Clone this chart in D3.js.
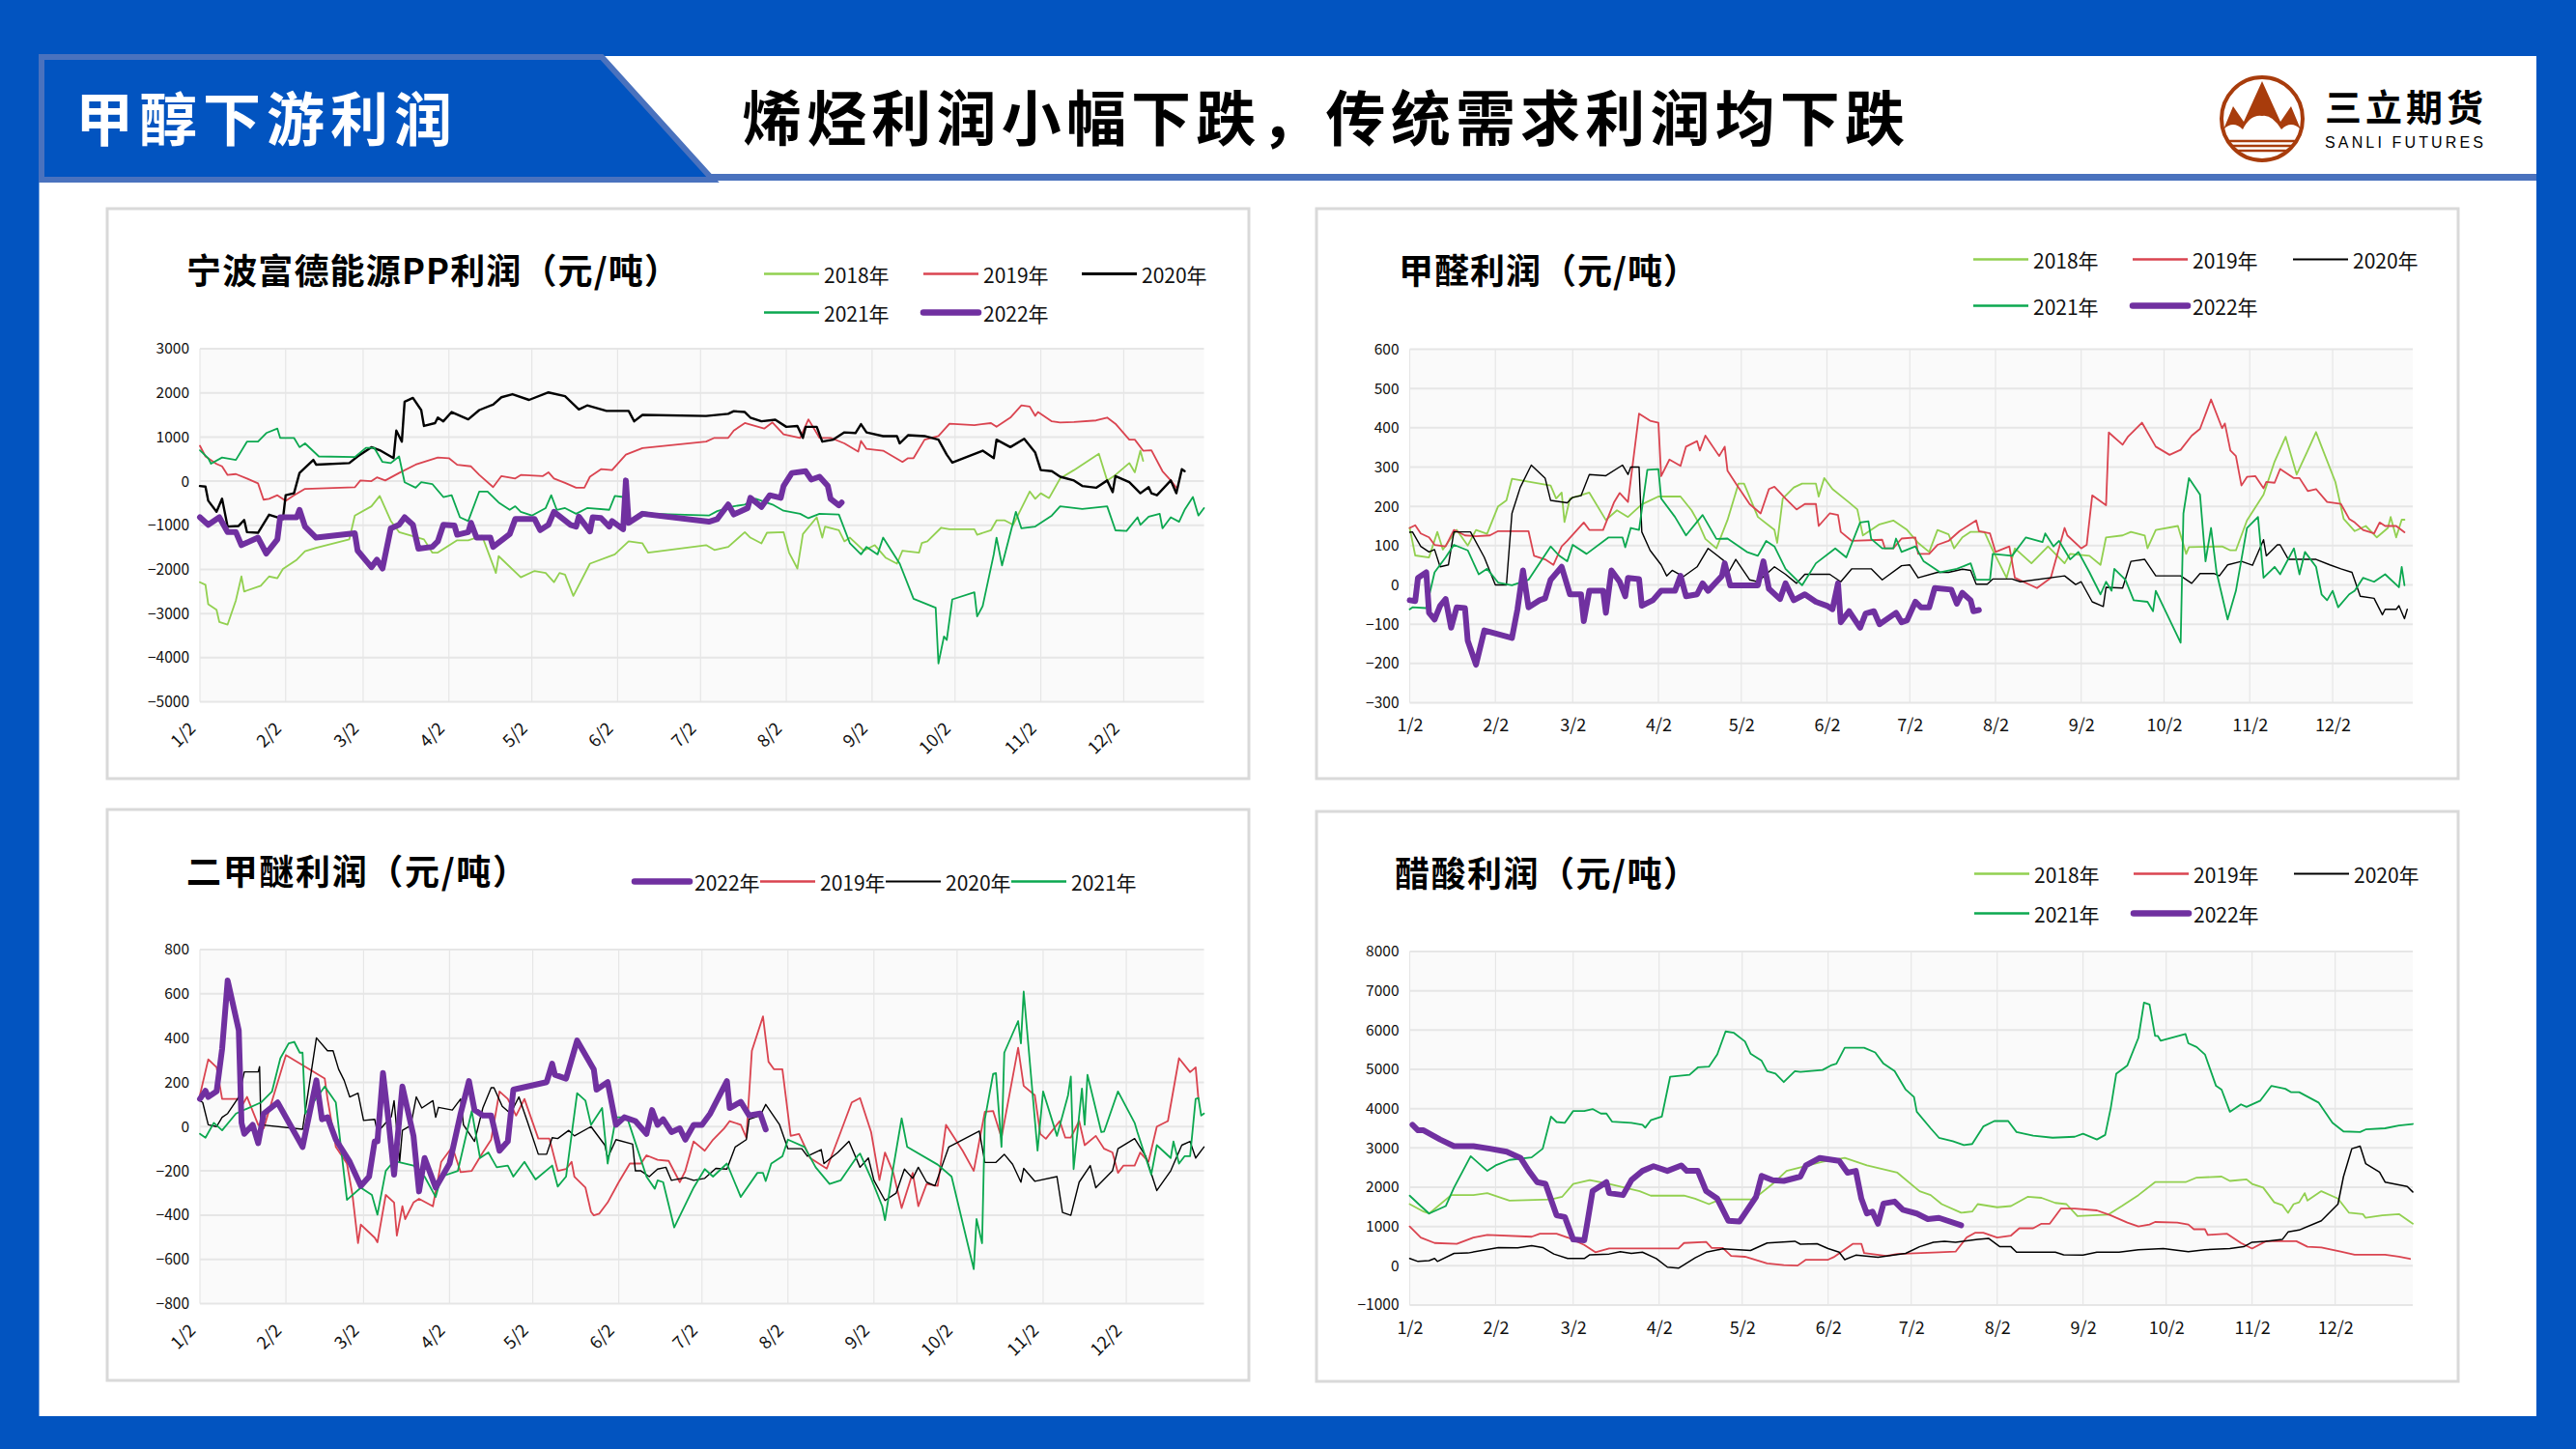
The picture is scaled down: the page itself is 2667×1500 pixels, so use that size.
<!DOCTYPE html>
<html><head><meta charset="utf-8">
<script src="https://cdn.jsdelivr.net/npm/d3@7/dist/d3.min.js"></script>
<style>html,body{margin:0;padding:0;background:#0254C0;overflow:hidden}svg{display:block}text{font-family:"Noto Sans CJK SC","Noto Sans",sans-serif}</style>
</head><body><svg id="c" width="2667" height="1500"></svg>
<script>
// Day offsets from Jan 2 for the month ticks
const tickDays=[0,31,59,90,120,151,181,212,243,273,304,334];
const tickLabels=["1/2","2/2","3/2","4/2","5/2","6/2","7/2","8/2","9/2","10/2","11/2","12/2"];
// ---------- PP
const ppYears=[-5000,-4000,-3000,-2000,-1000,0,1000,2000,3000];
const pp2018=[[0,-2290],[2,-2350],[3,-2790],[6,-2915],[7,-3190],[10,-3250],[13,-2700],[15,-2160],[16,-2500],[22,-2370],[25,-2160],[28,-2200],[30,-1990],[35,-1780],[38,-1590],[42,-1510],[54,-1320],[56,-780],[62,-570],[65,-335],[69,-900],[72,-1155],[81,-1320],[84,-1620],[86,-1620],[93,-1340],[97,-1340],[102,-1240],[105,-1740],[107,-2080],[108,-1700],[116,-2180],[121,-2035],[125,-2080],[128,-2290],[130,-2080],[132,-2120],[135,-2600],[141,-1870],[150,-1660],[155,-1365],[160,-1410],[162,-1620],[183,-1450],[186,-1560],[191,-1490],[197,-1155],[199,-1280],[203,-1410],[205,-1170],[211,-1155],[213,-1620],[216,-1980],[218,-1200],[223,-820],[225,-1280],[226,-1030],[231,-1110],[233,-1365],[235,-1280],[240,-1575],[244,-1450],[248,-1740],[252,-1870],[254,-1575],[260,-1620],[261,-1400],[263,-1365],[268,-1055],[271,-1090],[280,-1090],[281,-1215],[286,-1110],[288,-890],[291,-890],[294,-990],[296,-740],[300,-235],[302,-400],[304,-275],[307,-385],[311,60],[316,250],[325,620],[328,15],[331,140],[336,410],[338,200],[340,690],[341,460]];
const pp2019=[[0,800],[2,560],[6,390],[8,335],[10,140],[13,160],[17,60],[21,-50],[23,-420],[25,-400],[28,-320],[31,-445],[34,-320],[38,-175],[56,-140],[58,15],[62,0],[64,85],[67,15],[72,185],[78,375],[86,535],[90,520],[93,370],[98,335],[101,140],[106,-135],[109,115],[114,60],[116,140],[124,115],[126,200],[128,60],[132,-40],[136,-150],[139,-150],[141,100],[145,270],[149,250],[154,600],[160,750],[183,895],[186,980],[191,980],[193,1145],[197,1315],[204,1190],[207,1330],[211,1060],[217,980],[220,1400],[224,980],[228,980],[233,855],[238,670],[239,910],[241,730],[247,690],[254,435],[256,520],[258,520],[262,940],[267,1020],[271,1300],[280,1270],[286,1315],[288,1230],[293,1440],[297,1715],[300,1690],[302,1480],[303,1565],[308,1355],[311,1330],[316,1340],[324,1375],[328,1440],[331,1300],[336,940],[338,940],[341,690],[344,700],[348,225],[351,15],[353,-150]];
const pp2020=[[0,-110],[2,-125],[3,-445],[6,-695],[8,-400],[10,-1030],[14,-1015],[16,-880],[17,-1155],[21,-1170],[25,-760],[30,-860],[31,-320],[34,-275],[36,185],[41,480],[42,375],[54,410],[57,560],[62,770],[65,700],[70,520],[71,1145],[73,895],[74,1800],[77,1885],[80,1610],[81,1250],[85,1315],[86,1440],[88,1355],[91,1565],[97,1400],[101,1610],[106,1735],[109,1900],[113,1970],[119,1840],[126,2010],[132,1925],[137,1625],[140,1715],[147,1590],[155,1590],[157,1355],[160,1500],[183,1475],[191,1525],[193,1585],[197,1565],[199,1440],[203,1355],[208,1390],[212,1230],[216,1250],[218,980],[219,1230],[223,1230],[225,895],[229,940],[233,1105],[237,1090],[239,1290],[241,1105],[247,1020],[252,1020],[253,855],[256,1040],[262,1020],[267,940],[270,600],[272,420],[283,690],[287,520],[288,940],[293,770],[298,960],[302,645],[304,250],[308,225],[311,100],[316,15],[319,-110],[324,-150],[328,15],[330,-250],[331,115],[336,-25],[340,-275],[343,-135],[344,-275],[346,-320],[351,15],[353,-275],[355,270],[356,225]];
const pp2021=[[0,700],[3,520],[4,395],[8,535],[13,480],[17,895],[21,895],[24,1090],[28,1190],[29,980],[34,980],[36,770],[38,855],[43,560],[56,545],[60,755],[63,755],[66,435],[69,410],[72,560],[74,-25],[78,-150],[80,-25],[84,-65],[88,-360],[91,-320],[94,-820],[97,-905],[101,-235],[104,-235],[108,-485],[112,-650],[114,-570],[116,-695],[120,-780],[125,-610],[127,-320],[129,-650],[132,-610],[136,-740],[140,-610],[148,-650],[150,-335],[153,-360],[155,-905],[160,-695],[164,-740],[184,-780],[187,-680],[193,-570],[197,-530],[201,-400],[207,-530],[211,-670],[217,-740],[220,-840],[224,-740],[231,-755],[235,-1410],[239,-1660],[241,-1490],[245,-1660],[247,-1280],[253,-1870],[258,-2665],[266,-2870],[267,-4130],[269,-3520],[270,-3600],[272,-2680],[280,-2520],[281,-3065],[283,-2830],[287,-1660],[288,-1280],[290,-1910],[295,-695],[297,-1070],[302,-1030],[308,-780],[311,-570],[319,-630],[328,-570],[331,-1115],[335,-1130],[339,-820],[340,-990],[343,-805],[347,-740],[348,-1070],[351,-820],[354,-920],[356,-650],[359,-360],[361,-780],[363,-610]];
const pp2022=[[0,-820],[3,-990],[7,-820],[10,-1155],[13,-1155],[15,-1450],[21,-1280],[24,-1640],[28,-1320],[29,-820],[35,-820],[36,-650],[38,-1030],[42,-1280],[56,-1180],[57,-1575],[62,-1950],[64,-1780],[66,-1980],[69,-1070],[72,-990],[74,-820],[77,-990],[79,-1530],[84,-1490],[86,-1365],[88,-990],[92,-1005],[93,-1215],[97,-1155],[98,-945],[100,-1280],[105,-1280],[106,-1490],[112,-1200],[114,-860],[121,-860],[123,-1110],[126,-990],[128,-695],[134,-990],[136,-1030],[137,-805],[141,-1140],[142,-820],[145,-835],[148,-1030],[149,-905],[153,-1090],[154,15],[155,-945],[160,-740],[184,-920],[187,-860],[191,-530],[193,-755],[198,-610],[199,-380],[203,-585],[206,-320],[210,-380],[211,-110],[214,185],[219,225],[221,35],[224,100],[227,-110],[228,-400],[231,-550],[232,-485]];
// ---------- Formaldehyde
const hchoTicks=[-300,-200,-100,0,100,200,300,400,500,600];
const hcho2018=[[0,145],[2,75],[7,70],[10,135],[12,90],[17,140],[21,100],[24,140],[28,130],[32,200],[35,215],[37,270],[51,253],[53,220],[55,235],[56,160],[58,220],[65,235],[71,165],[75,190],[79,173],[84,205],[90,225],[98,225],[102,190],[104,165],[107,117],[111,93],[115,165],[119,258],[121,258],[126,173],[132,140],[133,107],[135,220],[139,248],[142,258],[147,258],[148,225],[150,272],[153,244],[159,210],[162,192],[164,126],[170,154],[175,164],[180,140],[184,107],[188,84],[191,140],[195,129],[197,93],[200,121],[203,135],[208,135],[211,88],[216,18],[219,93],[225,55],[231,98],[237,55],[239,79],[246,74],[250,51],[252,121],[258,126],[261,135],[266,126],[267,93],[270,140],[278,150],[281,79],[282,96],[294,98],[297,88],[299,88],[303,164],[309,230],[313,314],[317,377],[321,281],[325,342],[328,389],[330,352],[335,262],[338,168],[342,137],[346,150],[350,121],[354,145],[355,173],[357,121],[359,166],[360,166]];
const hcho2019=[[0,145],[2,152],[4,131],[7,121],[9,102],[13,98],[16,140],[20,126],[24,124],[29,126],[32,137],[43,137],[45,74],[49,65],[52,51],[55,98],[57,112],[63,159],[65,140],[70,140],[74,211],[76,234],[79,211],[83,436],[87,418],[90,413],[91,277],[94,319],[98,303],[100,352],[104,366],[105,342],[107,380],[112,328],[114,352],[115,291],[119,248],[123,206],[127,182],[130,244],[132,250],[136,220],[140,192],[143,206],[147,206],[148,150],[152,182],[155,178],[156,135],[160,112],[171,115],[172,93],[175,93],[178,118],[183,121],[184,79],[188,79],[191,102],[195,112],[199,137],[205,164],[206,137],[210,131],[212,84],[217,98],[219,18],[227,-8],[232,18],[237,145],[238,126],[243,93],[245,102],[247,228],[252,203],[253,388],[258,357],[260,378],[265,413],[270,352],[275,331],[279,344],[283,380],[286,397],[290,472],[294,399],[295,411],[297,342],[299,328],[301,253],[303,275],[306,277],[309,246],[310,262],[313,260],[315,295],[320,272],[322,272],[325,239],[328,244],[332,211],[337,206],[340,168],[342,159],[345,140],[349,131],[351,159],[353,150],[357,150],[360,134]];
const hcho2020=[[0,134],[1,135],[4,98],[7,84],[9,90],[11,46],[14,51],[16,135],[22,135],[27,70],[31,0],[35,0],[37,182],[40,248],[44,305],[49,272],[51,215],[57,209],[59,223],[62,227],[65,281],[71,278],[77,305],[79,281],[80,300],[83,300],[84,135],[87,88],[91,51],[93,23],[95,37],[99,21],[104,46],[108,93],[114,60],[115,27],[118,65],[123,13],[126,8],[132,46],[136,27],[140,4],[143,27],[152,27],[156,8],[160,41],[167,41],[171,13],[178,49],[181,51],[184,18],[191,32],[195,32],[200,40],[203,37],[205,2],[209,2],[211,15],[218,15],[221,8],[237,23],[241,1],[243,8],[247,-43],[251,-55],[252,-6],[258,-8],[261,60],[266,65],[270,23],[279,23],[283,4],[286,29],[291,29],[293,23],[296,51],[301,60],[305,50],[309,115],[310,74],[314,102],[315,102],[318,65],[328,65],[333,51],[337,41],[341,32],[344,-29],[349,-34],[352,-76],[353,-62],[357,-62],[358,-53],[360,-86],[361,-62]];
const hcho2021=[[0,-62],[1,-57],[6,-59],[9,32],[13,70],[16,102],[21,88],[25,27],[28,41],[32,6],[37,-1],[43,13],[51,98],[54,75],[57,60],[59,102],[64,79],[72,121],[77,121],[78,96],[80,145],[83,140],[86,293],[90,295],[91,220],[96,173],[100,126],[106,178],[111,117],[115,118],[122,84],[126,74],[129,112],[132,98],[136,41],[142,-1],[147,55],[154,93],[158,70],[163,159],[166,162],[167,117],[171,93],[175,93],[176,118],[178,84],[183,98],[186,60],[192,32],[198,41],[203,55],[205,13],[210,13],[211,79],[218,74],[223,121],[229,109],[230,131],[233,98],[235,112],[239,65],[242,84],[246,32],[250,-24],[252,8],[254,-15],[255,41],[259,13],[262,-39],[267,-43],[269,-67],[270,-15],[279,-147],[280,182],[282,272],[286,230],[288,60],[290,145],[292,32],[296,-88],[299,-15],[303,145],[307,173],[309,18],[313,46],[315,27],[320,93],[322,27],[324,84],[328,46],[330,-24],[332,-39],[334,-15],[336,-57],[340,-24],[342,-15],[345,18],[349,8],[353,27],[358,-6],[359,46],[360,-1]];
const hcho2022=[[0,-39],[2,-41],[3,18],[6,32],[7,-71],[9,-88],[11,-53],[13,-36],[15,-109],[17,-57],[20,-59],[21,-142],[24,-203],[27,-116],[37,-135],[39,-62],[41,37],[43,-57],[47,-39],[49,-34],[51,13],[55,46],[58,-24],[62,-24],[63,-92],[65,-15],[70,-15],[71,-71],[73,37],[76,8],[78,-29],[79,18],[83,15],[84,-53],[88,-39],[91,-15],[96,-15],[98,23],[100,-29],[104,-24],[106,4],[108,-15],[113,23],[114,55],[116,-1],[126,-1],[128,60],[130,-10],[134,-36],[136,4],[139,-39],[143,-24],[147,-43],[151,-53],[153,-62],[155,4],[156,-95],[159,-67],[163,-109],[165,-73],[168,-67],[170,-100],[176,-71],[178,-95],[180,-90],[183,-43],[185,-57],[188,-57],[190,-8],[196,-12],[198,-48],[200,-20],[203,-39],[204,-67],[206,-64]];
// ---------- DME
const dmeTicks=[-800,-600,-400,-200,0,200,400,600,800];
const dme2019=[[0,142],[3,304],[6,268],[8,125],[14,125],[15,92],[17,134],[21,8],[23,-8],[31,323],[45,217],[46,125],[49,-92],[53,-167],[55,-309],[57,-527],[58,-443],[63,-502],[64,-523],[67,-309],[70,-343],[71,-493],[73,-360],[74,-418],[77,-343],[79,-326],[84,-360],[87,-159],[91,-92],[94,-206],[98,-200],[102,-117],[105,-59],[108,159],[111,125],[114,50],[117,125],[122,-54],[126,-54],[129,-200],[132,-192],[134,-159],[135,-226],[139,-276],[141,-385],[142,-401],[144,-393],[147,-343],[151,-251],[155,-167],[159,-167],[161,-130],[165,-150],[169,-155],[173,-251],[175,-200],[178,-67],[182,-109],[185,-59],[189,-8],[191,25],[195,8],[197,-50],[199,343],[203,498],[205,293],[207,259],[210,259],[213,-42],[216,-33],[220,-142],[226,-190],[231,-25],[235,109],[238,129],[242,-25],[245,-242],[247,-117],[250,-209],[253,-368],[257,-209],[259,-360],[262,-259],[266,-268],[269,8],[275,-109],[279,-200],[283,67],[286,70],[289,-50],[295,356],[297,184],[301,142],[303,-33],[305,-55],[310,25],[312,-50],[314,-50],[317,25],[319,-84],[323,-42],[326,-100],[329,-117],[331,-209],[333,-176],[337,-176],[339,-117],[342,-159],[345,0],[349,25],[353,309],[357,246],[359,268],[360,125]];
const dme2020=[[0,117],[1,109],[3,8],[6,0],[8,42],[10,59],[14,134],[16,247],[21,247],[21.5,271],[22,8],[37,-12],[42,401],[46,343],[48,343],[50,259],[52,209],[54,134],[57,151],[59,28],[63,33],[64,-25],[69,45],[70,117],[72,-159],[73,-17],[76,5],[78,134],[80,84],[84,117],[85,42],[86,87],[91,75],[94,125],[95,8],[99,-67],[102,84],[105,176],[106,176],[109,92],[112,59],[115,134],[118,25],[122,-125],[125,-125],[127,-50],[129,-54],[133,-17],[135,-42],[141,0],[146,-84],[147,-142],[150,-59],[156,-79],[157,-200],[159,-200],[162,-226],[165,-192],[168,-184],[170,-243],[175,-231],[178,-243],[182,-234],[186,-189],[190,-192],[193,-92],[197,-59],[198,33],[202,50],[204,100],[209,8],[212,-100],[217,-100],[219,-134],[224,-104],[225,-167],[230,-117],[234,-67],[238,-184],[241,-142],[243,-243],[247,-334],[251,-301],[254,-192],[257,-234],[259,-184],[262,-251],[265,-268],[270,-92],[281,-20],[283,-162],[287,-162],[290,-125],[293,-170],[296,-251],[297,-189],[301,-247],[309,-226],[311,-388],[314,-401],[317,-251],[321,-176],[323,-276],[329,-200],[331,-100],[337,-54],[341,-134],[345,-289],[350,-200],[354,-84],[357,-67],[359,-142],[362,-92]];
const dme2021=[[0,-33],[2,-50],[5,17],[8,-17],[13,59],[22,109],[26,159],[29,309],[32,376],[34,383],[36,334],[37,334],[38,59],[45,181],[49,109],[53,-331],[58,-276],[62,-309],[64,-398],[67,-200],[70,-155],[77,-176],[81,-226],[85,-318],[87,-226],[93,-200],[98,70],[101,-142],[104,-117],[107,-184],[111,-176],[113,-226],[117,-159],[121,-239],[127,-176],[129,-271],[132,-226],[136,151],[139,117],[141,8],[145,84],[147,-167],[150,42],[154,42],[161,-226],[164,-281],[165,-243],[167,-251],[171,-456],[178,-276],[182,-192],[185,-226],[190,-167],[195,-318],[201,-209],[203,-209],[204,-246],[206,-167],[210,-134],[212,-59],[218,-92],[222,-184],[227,-259],[231,-243],[237,-134],[238,-122],[242,-234],[246,-360],[247,-423],[250,-184],[253,37],[255,-92],[266,-172],[271,-226],[279,-644],[280,-418],[282,-527],[283,33],[286,239],[287,242],[289,-92],[290,334],[295,477],[296,376],[297,610],[302,-109],[304,159],[309,-42],[313,142],[314,226],[315,-192],[318,172],[319,8],[320,234],[325,-25],[326,-22],[331,159],[337,17],[338,-25],[343,-217],[345,-84],[350,-142],[351,-67],[353,-167],[355,-134],[357,-134],[359,125],[360,129],[361,50],[362,59]];
const dme2022=[[0,125],[2,162],[3,134],[6,159],[8,351],[10,660],[14,435],[15,17],[16,-33],[19,8],[21,-75],[23,59],[28,109],[37,-92],[42,209],[44,33],[46,42],[49,-59],[54,-159],[58,-268],[61,-226],[63,-67],[64,-67],[66,242],[68,25],[70,-217],[73,181],[77,-42],[79,-293],[81,-142],[85,-276],[90,-167],[94,59],[97,206],[99,75],[102,50],[105,50],[108,-109],[111,-67],[113,167],[125,201],[127,284],[128,234],[132,217],[136,389],[142,259],[143,167],[147,201],[150,8],[153,42],[157,25],[161,-33],[163,75],[165,8],[167,33],[170,-25],[173,-8],[175,-59],[178,8],[181,8],[184,59],[190,206],[191,84],[195,112],[198,50],[202,59],[204,-13]];
// ---------- Acetic acid
const aceticTicks=[-1000,0,1000,2000,3000,4000,5000,6000,7000,8000];
const acetic2018=[[0,1570],[5,1380],[7,1330],[15,1800],[23,1800],[28,1850],[36,1660],[51,1690],[55,1755],[59,2085],[65,2180],[72,2085],[83,1900],[87,1785],[99,1785],[103,1710],[108,1570],[112,1690],[124,1690],[131,2085],[136,2415],[149,2650],[157,2745],[165,2555],[176,2370],[184,1900],[188,1800],[192,1570],[199,1350],[203,1380],[205,1570],[212,1490],[217,1520],[223,1755],[228,1730],[233,1600],[237,1570],[241,1265],[252,1300],[257,1520],[263,1800],[269,2130],[280,2130],[284,2245],[293,2270],[296,2160],[302,2200],[304,2085],[308,1990],[312,1615],[315,1540],[317,1350],[319,1570],[321,1615],[323,1850],[324,1660],[329,1900],[335,1710],[339,1350],[344,1315],[345,1220],[351,1285],[357,1315],[362,1070]];
const acetic2019=[[0,1000],[4,720],[9,580],[17,560],[23,720],[28,785],[44,740],[47,815],[53,815],[57,720],[63,530],[67,345],[72,440],[91,440],[97,440],[99,580],[107,610],[109,455],[113,455],[116,250],[121,230],[129,60],[135,15],[140,5],[143,155],[151,155],[153,220],[160,560],[163,560],[164,325],[172,250],[176,300],[191,345],[197,360],[201,720],[204,840],[207,840],[212,720],[217,770],[220,955],[225,955],[228,1070],[231,1070],[235,1455],[240,1455],[248,1410],[253,1285],[259,1100],[263,1000],[267,1050],[269,1115],[277,1100],[281,1050],[283,930],[287,930],[288,785],[295,815],[300,580],[304,440],[309,625],[320,625],[324,485],[329,465],[336,360],[341,280],[352,280],[357,230],[361,175]];
const acetic2020=[[0,185],[3,110],[7,130],[9,185],[10,110],[16,315],[21,325],[32,465],[39,455],[44,515],[48,465],[52,300],[57,185],[63,185],[65,280],[72,300],[76,360],[80,315],[84,345],[89,185],[93,-35],[97,-60],[103,200],[107,345],[113,430],[123,390],[129,580],[139,625],[141,550],[147,560],[151,440],[155,345],[157,155],[161,270],[169,220],[179,315],[184,485],[189,600],[193,625],[197,600],[205,675],[209,695],[213,485],[217,485],[219,345],[233,345],[236,280],[243,270],[248,345],[256,345],[263,410],[272,440],[281,360],[287,410],[296,440],[301,485],[304,600],[309,625],[315,675],[317,860],[321,910],[329,1145],[335,1570],[337,2270],[340,2980],[343,3045],[345,2600],[350,2385],[352,2130],[360,2020],[362,1880]];
const acetic2021=[[0,1785],[4,1520],[7,1330],[13,1520],[16,1990],[22,2790],[28,2415],[31,2555],[36,2695],[44,2760],[48,2980],[51,3800],[53,3660],[56,3640],[59,3940],[63,3940],[66,3990],[69,3875],[71,3875],[73,3670],[80,3640],[84,3590],[85,3515],[87,3705],[91,3800],[94,4815],[101,4860],[104,5050],[108,5070],[111,5380],[114,5965],[117,5930],[121,5710],[123,5400],[127,5220],[129,4955],[132,4890],[135,4675],[139,4955],[141,4935],[149,4985],[152,5100],[154,5145],[157,5550],[164,5550],[168,5430],[171,5145],[175,4955],[179,4485],[182,4295],[183,3920],[188,3500],[191,3260],[196,3170],[200,3075],[203,3100],[207,3545],[211,3685],[216,3685],[219,3405],[225,3310],[232,3260],[240,3285],[243,3360],[248,3215],[251,3330],[253,4015],[255,4890],[259,5100],[263,5805],[265,6700],[267,6650],[269,5850],[270,5850],[271,5730],[280,5900],[281,5665],[284,5570],[287,5380],[291,4580],[293,4485],[296,3920],[300,4110],[302,4045],[307,4205],[311,4580],[316,4505],[318,4420],[321,4420],[328,4155],[333,3640],[337,3420],[343,3405],[345,3470],[352,3500],[357,3570],[362,3610]];
const acetic2022=[[1,3590],[3,3450],[5,3450],[11,3215],[16,3045],[23,3045],[29,2980],[35,2905],[40,2745],[43,2415],[46,2130],[49,2085],[53,1285],[56,1240],[59,670],[63,645],[64,1050],[66,1900],[71,2130],[72,1850],[77,1800],[80,2180],[84,2415],[88,2535],[93,2415],[98,2555],[100,2415],[104,2415],[107,1900],[111,1710],[115,1145],[119,1125],[125,1755],[127,2290],[131,2180],[135,2160],[141,2270],[143,2555],[148,2745],[155,2670],[158,2370],[161,2415],[163,1710],[165,1330],[167,1380],[169,1070],[171,1585],[175,1635],[178,1425],[183,1330],[187,1190],[191,1220],[199,1030]];

const colors={"2018":"#92D050","2019":"#DA4450","2020":"#000000","2021":"#0CA850","2022":"#7030A0"};
const svg=d3.select("#c");
const BLUE="#0254C0",EDGE="#4A72BE";

svg.append("rect").attr("width",2667).attr("height",1500).attr("fill",BLUE);
svg.append("rect").attr("x",40.5).attr("y",58).attr("width",2585.5).attr("height",1408).attr("fill","#fff");
svg.append("rect").attr("x",735).attr("y",180).attr("width",1891).attr("height",7).attr("fill",EDGE);
svg.append("path").attr("d","M43,59 L623,59 L738,186 L43,186 Z").attr("fill",BLUE).attr("stroke",EDGE).attr("stroke-width",6);
svg.append("text").attr("x",78).attr("y",119).attr("fill","#fff").attr("font-size",60).attr("font-weight",700).attr("dominant-baseline","central").attr("textLength",390).text("甲醇下游利润");
svg.append("text").attr("x",768).attr("y",119).attr("fill","#000").attr("font-size",62).attr("font-weight",700).attr("dominant-baseline","central").attr("textLength",1204).text("烯烃利润小幅下跌，传统需求利润均下跌");
const RUST="#A83C0C";
const logo=svg.append("g");
logo.append("ellipse").attr("cx",2342).attr("cy",123).attr("rx",42).attr("ry",43).attr("fill","#fff").attr("stroke",RUST).attr("stroke-width",4);
logo.append("path").attr("fill",RUST).attr("d","M2302,134 L2312,110 L2323,126 L2342,84 L2361,126 L2372,110 L2382,134 Q2372,124 2362,134 Q2352,118 2342,120 Q2330,118 2322,134 Q2312,124 2302,134Z");
[[2308,2376,146],[2311,2373,151],[2316,2368,156]].forEach(d=>logo.append("line").attr("x1",d[0]).attr("x2",d[1]).attr("y1",d[2]).attr("y2",d[2]).attr("stroke",RUST).attr("stroke-width",2.5));
logo.append("text").attr("x",2407).attr("y",108).attr("font-size",38).attr("font-weight",700).attr("dominant-baseline","central").attr("textLength",164).text("三立期货");
logo.append("text").attr("x",2407).attr("y",147).attr("font-size",16).attr("font-weight",500).attr("dominant-baseline","central").attr("textLength",164).style("font-family","'Liberation Sans'").text("SANLI FUTURES");

function panel(o){
  svg.append("rect").attr("x",o.box[0]).attr("y",o.box[1]).attr("width",o.box[2]-o.box[0]).attr("height",o.box[3]-o.box[1]).attr("fill","#fff").attr("stroke","#D9D9D9").attr("stroke-width",3);
  const x=d3.scaleLinear().domain([0,o.xMax]).range([o.plot[0],o.plot[2]]);
  const y=d3.scaleLinear().domain(d3.extent(o.ticks)).range([o.plot[3],o.plot[1]]);
  svg.append("rect").attr("x",o.plot[0]).attr("y",o.plot[1]).attr("width",o.plot[2]-o.plot[0]).attr("height",o.plot[3]-o.plot[1]).attr("fill","#FAFAFA");
  const g=svg.append("g");
  g.selectAll(".v").data(tickDays).join("line").attr("x1",d=>x(d)).attr("x2",d=>x(d)).attr("y1",o.plot[1]).attr("y2",o.plot[3]).attr("stroke","#E6E6E6").attr("stroke-width",1.2);
  g.selectAll(".h").data(o.ticks).join("line").attr("x1",o.plot[0]).attr("x2",o.plot[2]).attr("y1",d=>y(d)).attr("y2",d=>y(d)).attr("stroke","#E6E6E6").attr("stroke-width",2);
  const ay=svg.append("g").attr("transform",`translate(${o.plot[0]},0)`).call(d3.axisLeft(y).tickValues(o.ticks).tickSize(0).tickPadding(11).tickFormat(d3.format("d")));
  ay.select(".domain").remove();
  ay.selectAll("text").attr("font-size",15.5).attr("fill","#111").style("font-family","'Noto Sans CJK SC'");
  const ax=svg.append("g").attr("transform",`translate(0,${o.plot[3]})`).call(d3.axisBottom(x).tickValues(tickDays).tickSize(0).tickFormat((d,i)=>tickLabels[i]));
  ax.select(".domain").remove();
  ax.selectAll("text").attr("fill","#111").style("font-family","'Noto Sans CJK SC'");
  if(o.rot){
    ax.selectAll("text").attr("font-size",18).attr("text-anchor","end").attr("dy",0).attr("y",0).attr("transform","translate(-4,29) rotate(-45)");
  }else{
    ax.selectAll("text").attr("font-size",18).attr("y",17);
  }
  const ln=d3.line().x(d=>x(d[0])).y(d=>y(d[1])).curve(d3.curveLinear);
  const sorted=o.series.slice().sort((a,b)=>(a.name==="2022")-(b.name==="2022"));
  sorted.forEach(s=>{
    const w=s.name==="2022"?6:(s.name==="2020"?o.black:1.8);
    svg.append("path").datum(s.values).attr("fill","none").attr("stroke",colors[s.name]).attr("stroke-width",w).attr("stroke-linejoin","round").attr("stroke-linecap","round").attr("d",ln);
  });
  svg.append("text").attr("x",o.title[0]).attr("y",o.title[1]-3).attr("font-size",36).attr("font-weight",700).attr("dominant-baseline","central").attr("textLength",o.title[2]).text(o.titleText);
  o.legend.forEach(l=>{
    const ly=l[2]-1.5;
    svg.append("line").attr("x1",l[1]).attr("x2",l[1]+57).attr("y1",ly).attr("y2",ly).attr("stroke",colors[l[0]]).attr("stroke-width",l[0]==="2022"?6.5:(l[0]==="2020"?o.black+.4:2.3)).attr("stroke-linecap",l[0]==="2022"?"round":"butt");
    svg.append("text").attr("x",l[1]+62).attr("y",ly).attr("font-size",21).attr("fill","#111").attr("dominant-baseline","central").text(l[0]+"年");
  });
}
const mk=(a,b,c,d,e)=>[{name:"2018",values:a},{name:"2019",values:b},{name:"2020",values:c},{name:"2021",values:d},{name:"2022",values:e}];
panel({box:[111,216,1293,806],plot:[207,361,1246.5,726.5],xMax:363,ticks:ppYears,rot:true,black:2.4,title:[193,281,510],titleText:"宁波富德能源PP利润（元/吨）",
 series:mk(pp2018,pp2019,pp2020,pp2021,pp2022),
 legend:[["2018",791,285],["2019",956,285],["2020",1120,285],["2021",791,325],["2022",956,325]]});
panel({box:[1363,216,2545,806],plot:[1459.5,361.5,2498,727.5],xMax:363,ticks:hchoTicks,rot:false,black:1.4,title:[1448,281,310],titleText:"甲醛利润（元/吨）",
 series:mk(hcho2018,hcho2019,hcho2020,hcho2021,hcho2022),
 legend:[["2018",2043,270],["2019",2208,270],["2020",2374,270],["2021",2043,318],["2022",2208,318]]});
panel({box:[111,838,1293,1429],plot:[207,983,1246.5,1349.5],xMax:362,ticks:dmeTicks,rot:true,black:1.4,title:[193,903,353],titleText:"二甲醚利润（元/吨）",
 series:[{name:"2022",values:dme2022},{name:"2019",values:dme2019},{name:"2020",values:dme2020},{name:"2021",values:dme2021}],
 legend:[["2022",657,914],["2019",787,914],["2020",917,914],["2021",1047,914]]});
panel({box:[1363,840,2545,1430],plot:[1459.5,985,2498,1351],xMax:362,ticks:aceticTicks,rot:false,black:1.5,title:[1444,905,314],titleText:"醋酸利润（元/吨）",
 series:mk(acetic2018,acetic2019,acetic2020,acetic2021,acetic2022),
 legend:[["2018",2044,906],["2019",2209,906],["2020",2375,906],["2021",2044,947],["2022",2209,947]]});
</script></body></html>
